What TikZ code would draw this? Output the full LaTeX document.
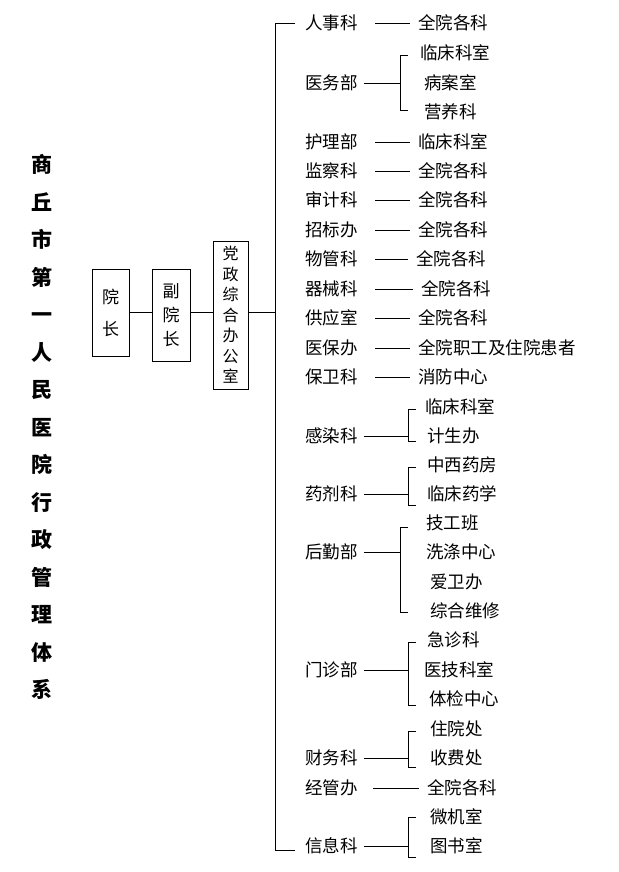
\documentclass[tikz,border=0pt]{standalone}
\usepackage{fontspec}
\setmainfont{Noto Sans CJK SC}
\begin{document}
\begin{tikzpicture}[x=1pt,y=-1pt,
  txt/.style={inner sep=0pt,font=\fontsize{17.5}{17.5}\selectfont,anchor=west},
  boxv/.style={draw,inner sep=3pt,font=\fontsize{17}{24}\selectfont,align=center},
  ln/.style={line width=0.8pt}]
\useasboundingbox (0,0) rectangle (618,872);
\node[font=\fontsize{21}{37.5}\selectfont\bfseries,align=center,inner sep=0pt] (title) at (42,427)
 {商\\丘\\市\\第\\一\\人\\民\\医\\院\\行\\政\\管\\理\\体\\系};
\node[boxv,minimum width=37pt,minimum height=87pt] (a) at (110.5,312.5) {院\\[8pt]长};
\node[boxv,minimum width=38pt,minimum height=92pt] (b) at (171,315) {副\\院\\长};
\node[boxv,minimum width=35pt,minimum height=148pt,font=\fontsize{16}{20.5}\selectfont] (c) at (230.5,315) {党\\政\\综\\合\\办\\公\\室};
\coordinate (mt) at (275,23); \coordinate (mb) at (275,850); \coordinate (mm) at (275,312);
\draw[ln] (a.east|-0,312) -- (b.west|-0,312);
\draw[ln] (b.east|-0,312) -- (c.west|-0,312);
\draw[ln] (c.east|-0,312) -- (mm);
\draw[ln] (295,23) -- (mt) -- (mb) -- (295,850);
\foreach \n/\y/\a/\b/\leaf/\lx in {
 renshi/23/人事科/375/全院各科/418,
 huli/142/护理部/375/临床科室/418,
 jiancha/171/监察科/375/全院各科/418,
 shenji/200/审计科/375/全院各科/418,
 zhaobiao/230/招标办/375/全院各科/418,
 wuguan/259/物管科/375/全院各科/416,
 qixie/289/器械科/375/全院各科/421,
 gongying/318/供应室/375/全院各科/418,
 yibao/348/医保办/375/全院职工及住院患者/418,
 baowei/377/保卫科/375/消防中心/418,
 jingguan/788/经管办/373/全院各科/427}{
  \node[txt] (\n) at (305,\y) {\a};
  \node[txt] (\n l) at (\lx,\y) {\leaf};
  \draw[ln] (\b,\y) -- (\n l.west-|{\lx-8},0);
}
\newcommand\grp[6]{%
  \node[txt] (#1) at (305,#2) {#3};
  \draw[ln] (#1.east) ++(6,0) -- (#4,#2);
  \draw[ln] (#4+8,#5) -- (#4,#5) -- (#4,#6) -- (#4+8,#6);}
\grp{yiwu}{83}{医务部}{400}{55}{110}
\node[txt] (yw1) at (420,53) {临床科室};
\node[txt] (yw2) at (424,83) {病案室};
\node[txt] (yw3) at (424,112) {营养科};
\grp{ganran}{436}{感染科}{408}{409}{441}
\node[txt] (gr1) at (425,407) {临床科室};
\node[txt] (gr2) at (427,436) {计生办};
\grp{yaoji}{494}{药剂科}{408}{467}{505}
\node[txt] (yj1) at (427,465) {中西药房};
\node[txt] (yj2) at (427,494) {临床药学};
\grp{houqin}{552}{后勤部}{400}{527}{612}
\node[txt] (hq1) at (426,523) {技工班};
\node[txt] (hq2) at (426,552) {洗涤中心};
\node[txt] (hq3) at (430,582) {爱卫办};
\node[txt] (hq4) at (430,611) {综合维修};
\grp{menzhen}{670}{门诊部}{408}{642}{705}
\node[txt] (mz1) at (427,640) {急诊科};
\node[txt] (mz2) at (424,670) {医技科室};
\node[txt] (mz3) at (429,699) {体检中心};
\grp{caiwu}{758}{财务科}{408}{731}{767}
\node[txt] (cw1) at (430,729) {住院处};
\node[txt] (cw2) at (430,758) {收费处};
\grp{xinxi}{846}{信息科}{408}{817}{857}
\node[txt] (xx1) at (430,817) {微机室};
\node[txt] (xx2) at (430,846) {图书室};
\end{tikzpicture}
\end{document}
